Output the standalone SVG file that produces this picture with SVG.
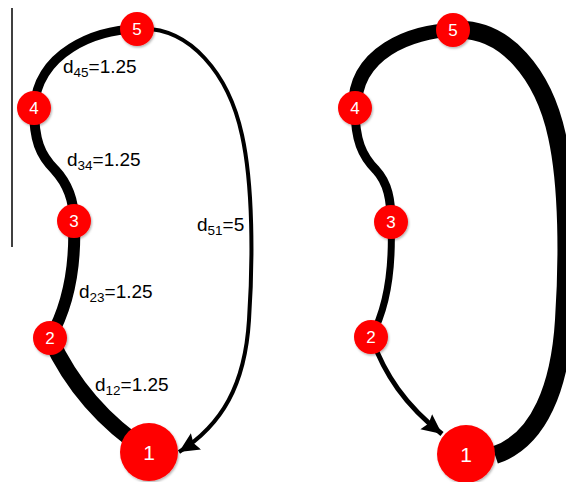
<svg xmlns="http://www.w3.org/2000/svg" width="566" height="482" viewBox="0 0 566 482">
<style>
.e{fill:none;stroke:#000;stroke-linecap:butt}
.n circle{fill:#f00;stroke:none}
.n text{fill:#fff;font-family:"Liberation Sans",Arial,sans-serif;text-anchor:middle;dominant-baseline:central}
.lbl{font-family:"Liberation Sans",Arial,sans-serif;font-size:19px;fill:#000}
.sub{font-size:13.5px}
</style>
<defs>
<marker id="ah" markerUnits="userSpaceOnUse" markerWidth="22" markerHeight="20" refX="20" refY="9.5" orient="auto">
<path d="M0,0 L20,9.5 L0,19 L3,9.5 z" fill="#000"/>
</marker>
<filter id="sh" x="-30%" y="-30%" width="160%" height="160%">
<feDropShadow dx="1" dy="1.5" stdDeviation="1.2" flood-color="#000" flood-opacity="0.3"/>
</filter>
</defs>
<line x1="12" y1="8" x2="12" y2="247" stroke="#000" stroke-width="1.5"/>
<g id="connectors">
<path class="e" d="M137,29 C95,30 38,52 34,108" stroke-width="9"/>
<path class="e" d="M34,108 C34,140 40,155 55,170 C68,184 74,200 74,221" stroke-width="10"/>
<path class="e" d="M74,221 C76,270 66,310 50,338" stroke-width="12"/>
<path class="e" d="M50,338 C70,382 100,420 149,452" stroke-width="16"/>
<path class="e" d="M137,29 C190,25 229,75 242,135 C253,185 253,260 249,320 C245,385 222,425 179,452" stroke-width="4" marker-end="url(#ah)"/>
<path class="e" d="M453,30 C411,31 354,53 355,108" stroke-width="14"/>
<path class="e" d="M355,108 C355,140 362,156 376,170 C388,183 391,200 391,222" stroke-width="9"/>
<path class="e" d="M391,222 C393,270 386,310 371,337" stroke-width="7"/>
<path class="e" d="M371,337 C385,375 405,405 442,434" stroke-width="5" marker-end="url(#ah)"/>
<path class="e" d="M453,30 C506,26 544,76 557,136 C568,186 568,260 564,320 C560,385 540,440 495,455" stroke-width="18"/>
</g>
<g class="lbl">
<text x="63" y="73">d<tspan class="sub" dy="4">45</tspan><tspan dy="-4">=1.25</tspan></text>
<text x="67" y="166">d<tspan class="sub" dy="4">34</tspan><tspan dy="-4">=1.25</tspan></text>
<text x="197" y="231">d<tspan class="sub" dy="4">51</tspan><tspan dy="-4">=5</tspan></text>
<text x="79" y="298">d<tspan class="sub" dy="4">23</tspan><tspan dy="-4">=1.25</tspan></text>
<text x="95" y="391">d<tspan class="sub" dy="4">12</tspan><tspan dy="-4">=1.25</tspan></text>
</g>
<g id="L5" class="n"><circle cx="137" cy="29" r="17" filter="url(#sh)"/><text x="137" y="29" font-size="17">5</text></g>
<g id="L4" class="n"><circle cx="34" cy="108" r="17" filter="url(#sh)"/><text x="34" y="108" font-size="17">4</text></g>
<g id="L3" class="n"><circle cx="74" cy="221" r="17" filter="url(#sh)"/><text x="74" y="221" font-size="17">3</text></g>
<g id="L2" class="n"><circle cx="50" cy="338" r="17" filter="url(#sh)"/><text x="50" y="338" font-size="17">2</text></g>
<g id="L1" class="n"><circle cx="149" cy="452" r="29" filter="url(#sh)"/><text x="149" y="452" font-size="21">1</text></g>
<g id="R5" class="n"><circle cx="453" cy="30" r="17" filter="url(#sh)"/><text x="453" y="30" font-size="17">5</text></g>
<g id="R4" class="n"><circle cx="355" cy="108" r="17" filter="url(#sh)"/><text x="355" y="108" font-size="17">4</text></g>
<g id="R3" class="n"><circle cx="391" cy="222" r="17" filter="url(#sh)"/><text x="391" y="222" font-size="17">3</text></g>
<g id="R2" class="n"><circle cx="371" cy="337" r="17" filter="url(#sh)"/><text x="371" y="337" font-size="17">2</text></g>
<g id="R1" class="n"><circle cx="466" cy="454" r="29" filter="url(#sh)"/><text x="466" y="454" font-size="21">1</text></g>
</svg>
